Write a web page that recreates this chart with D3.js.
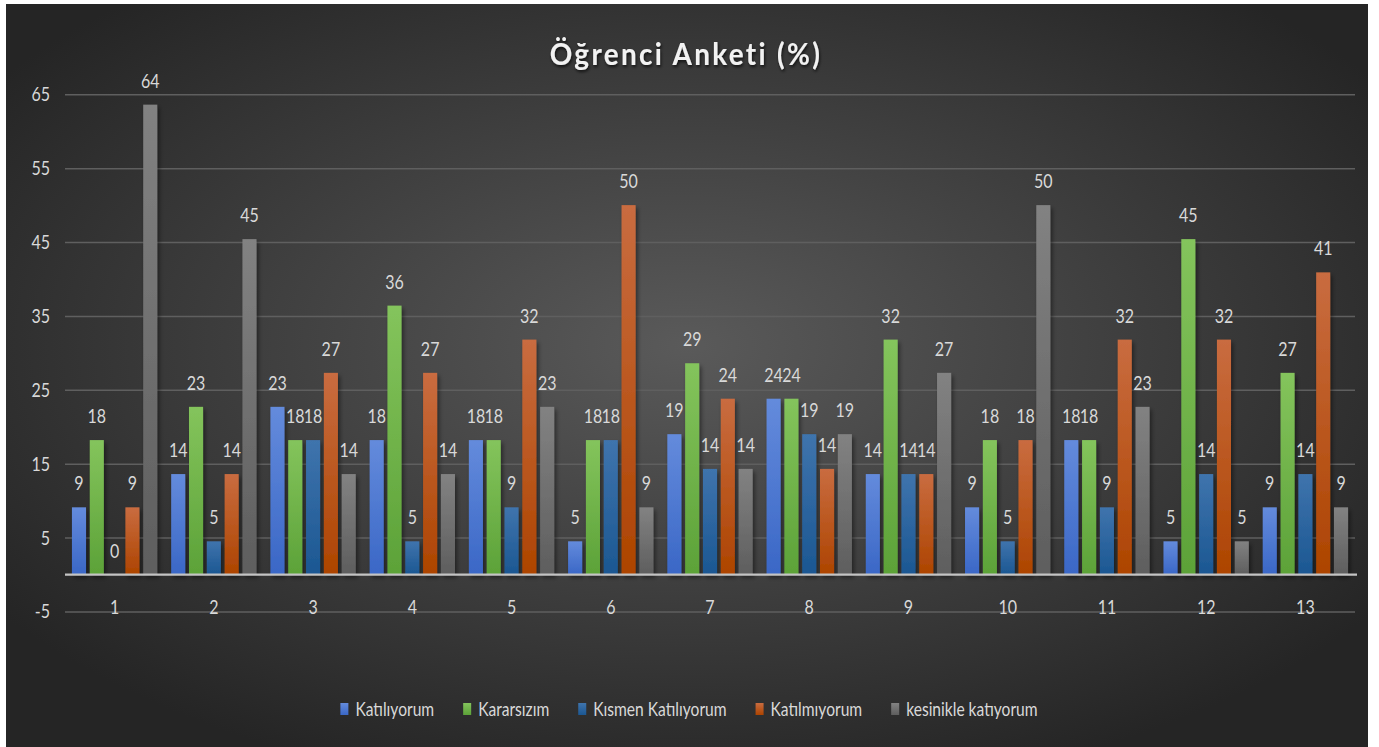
<!DOCTYPE html>
<html>
<head>
<meta charset="utf-8">
<script src="https://cdn.jsdelivr.net/npm/d3@7"></script>
<style>
  html, body { margin: 0; padding: 0; background: #ffffff; }
  svg { display: block; }
  text { font-family: Lato, "Open Sans", sans-serif; }
</style>
</head>
<body>
<svg id="chart" width="1379" height="747"></svg>
<script>
// ---- data ----
const categories = ["1","2","3","4","5","6","7","8","9","10","11","12","13"];
const seriesNames = ["Katılıyorum", "Kararsızım", "Kısmen Katılıyorum", "Katılmıyorum", "kesinikle katıyorum"];
const katiliyorum  = [9.1, 13.6, 22.7, 18.2, 18.2, 4.5, 19.0, 23.8, 13.6, 9.1, 18.2, 4.5, 9.1];
const kararsizim   = [18.2, 22.7, 18.2, 36.4, 18.2, 18.2, 28.6, 23.8, 31.8, 18.2, 18.2, 45.4, 27.3];
const kismen       = [0, 4.5, 18.2, 4.5, 9.1, 18.2, 14.3, 19.0, 13.6, 4.5, 9.1, 13.6, 13.6];
const katilmiyorum = [9.1, 13.6, 27.3, 27.3, 31.8, 50.0, 23.8, 14.3, 13.6, 18.2, 31.8, 31.8, 40.9];
const kesinlikle   = [63.6, 45.4, 13.6, 13.6, 22.7, 9.1, 14.3, 19.0, 27.3, 50.0, 22.7, 4.5, 9.1];
const yTicks = [-5, 5, 15, 25, 35, 45, 55, 65];
const titleText = "Öğrenci Anketi (%)";

const seriesValues = [katiliyorum, kararsizim, kismen, katilmiyorum, kesinlikle];
const colorTop = ["#648bdc", "#84c45c", "#3f74ad", "#c96c40", "#828282"];
const colorBot = ["#3a67c6", "#5ca238", "#1b5792", "#ad4400", "#5e5e5e"];

// ---- layout ----
const svg = d3.select("#chart");
const bg = {x: 6, y: 4, w: 1362, h: 743};
const plot = {left: 65, right: 1355, top: 94.3, bottom: 611.5};
const SX = 0.8;          // horizontal squeeze of the text, as in the reference
const LABEL = "#d9d9d9";
const FS = 20;

const defs = svg.append("defs");
const rg = defs.append("radialGradient").attr("id", "bgGrad")
  .attr("cx", "50%").attr("cy", "46%").attr("r", "62%");
rg.append("stop").attr("offset", "0%").attr("stop-color", "#5a5a5a");
rg.append("stop").attr("offset", "100%").attr("stop-color", "#252525");

seriesNames.forEach((s, i) => {
  const lg = defs.append("linearGradient").attr("id", "bar" + i)
    .attr("x1", 0).attr("y1", 0).attr("x2", 0).attr("y2", 1);
  lg.append("stop").attr("offset", "0%").attr("stop-color", colorTop[i]);
  lg.append("stop").attr("offset", "100%").attr("stop-color", colorBot[i]);
});

const sh = defs.append("filter").attr("id", "shadow")
  .attr("x", "-50%").attr("y", "-10%").attr("width", "200%").attr("height", "130%");
sh.append("feDropShadow").attr("dx", 2).attr("dy", 3).attr("stdDeviation", 2.2)
  .attr("flood-color", "#000").attr("flood-opacity", 0.45);

const tsh = defs.append("filter").attr("id", "tshadow")
  .attr("x", "-10%").attr("y", "-30%").attr("width", "120%").attr("height", "160%");
tsh.append("feDropShadow").attr("dx", 1).attr("dy", 2).attr("stdDeviation", 1.5)
  .attr("flood-color", "#000").attr("flood-opacity", 0.7);

svg.append("rect").attr("x", bg.x).attr("y", bg.y).attr("width", bg.w).attr("height", bg.h)
  .attr("fill", "url(#bgGrad)");

// ---- scales ----
const y = d3.scaleLinear().domain([-5, 65]).range([plot.bottom, plot.top]);
const x0 = d3.scaleBand().domain(categories).range([plot.left, plot.right])
  .paddingInner(0.14).paddingOuter(0.07);
const x1 = d3.scaleBand().domain(d3.range(seriesNames.length)).range([0, x0.bandwidth()])
  .paddingInner(0.21).paddingOuter(0);

// squeeze helper: keep a text's anchor point, compress horizontally
function squeeze(sel) {
  sel.each(function() {
    const t = d3.select(this);
    const x = +t.attr("x") || 0, yy = +t.attr("y") || 0;
    t.attr("x", 0).attr("y", 0)
     .attr("transform", `translate(${x},${yy}) scale(${SX},1)`);
  });
}

// gridlines + y tick labels
const yAxis = d3.axisLeft(y).tickValues(yTicks)
  .tickFormat(d => String(d))
  .tickSize(-(plot.right - plot.left)).tickPadding(15);
const gy = svg.append("g").attr("transform", `translate(${plot.left},0)`).call(yAxis);
gy.select(".domain").remove();
gy.selectAll(".tick line").attr("stroke", "#5f5f5f").attr("stroke-width", 1.5);
gy.selectAll(".tick text").attr("fill", LABEL).attr("font-size", FS)
  .style("font-family", "Lato, 'Open Sans', sans-serif").call(squeeze);

// bars
const groups = svg.append("g").selectAll("g").data(categories).join("g")
  .attr("transform", d => `translate(${x0(d)},0)`);

groups.each(function(cat, ci) {
  const g = d3.select(this);
  seriesValues.forEach((vals, si) => {
    const v = vals[ci];
    const h = y(0) - y(v);
    if (h > 0) {
      g.append("rect")
        .attr("x", x1(si)).attr("y", y(v))
        .attr("width", x1.bandwidth()).attr("height", h)
        .attr("fill", `url(#bar${si})`)
        .attr("filter", "url(#shadow)");
    }
  });
});

// baseline at zero
svg.append("line")
  .attr("x1", plot.left).attr("x2", plot.right + 2)
  .attr("y1", y(0)).attr("y2", y(0))
  .attr("stroke", "#c4c4c4").attr("stroke-width", 2.2);

// data labels
groups.each(function(cat, ci) {
  const g = d3.select(this);
  seriesValues.forEach((vals, si) => {
    const v = vals[ci];
    g.append("text")
      .attr("x", x1(si) + x1.bandwidth() / 2)
      .attr("y", y(v) - 17)
      .attr("text-anchor", "middle")
      .attr("fill", LABEL).attr("font-size", FS)
      .text(Math.round(v))
      .call(squeeze);
  });
});

// category labels
const xAxis = d3.axisBottom(x0).tickSize(0).tickPadding(0);
const gx = svg.append("g").attr("transform", `translate(0,${y(-5) - 12})`).call(xAxis);
gx.select(".domain").remove();
gx.selectAll(".tick text").attr("fill", LABEL).attr("font-size", FS)
  .style("font-family", "Lato, 'Open Sans', sans-serif")
  .attr("dy", null).attr("y", 14).call(squeeze);

// title
svg.append("text").attr("x", 0).attr("y", 0)
  .attr("transform", `translate(686,65) scale(0.9,1)`)
  .attr("text-anchor", "middle").attr("fill", "#f2f2f2")
  .attr("font-size", 31).attr("font-weight", "bold")
  .attr("letter-spacing", "2.6px")
  .attr("filter", "url(#tshadow)")
  .text(titleText);

// legend
const legend = svg.append("g");
let cx = 0;
seriesNames.forEach((s, i) => {
  const it = legend.append("g").attr("transform", `translate(${cx},0)`);
  it.append("rect").attr("x", 0).attr("y", -6).attr("width", 8).attr("height", 12)
    .attr("fill", `url(#bar${i})`);
  const t = it.append("text").attr("x", 0).attr("y", 0)
    .attr("transform", `translate(15,7) scale(${SX},1)`)
    .attr("fill", LABEL).attr("font-size", 19.5).text(s);
  cx += 15 + t.node().getComputedTextLength() * SX + 29;
});
const legW = cx - 29;
legend.attr("transform", `translate(${689 - legW / 2},709)`);
</script>
</body>
</html>
